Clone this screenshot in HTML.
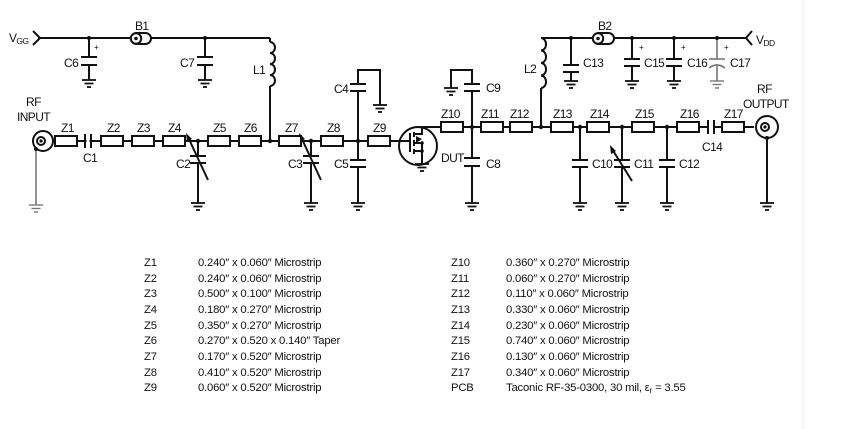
<!DOCTYPE html>
<html><head><meta charset="utf-8"><style>
body{margin:0;background:#fff}
svg{display:block}
text{font-family:"Liberation Sans",Arial,sans-serif;fill:#111}
</style></head><body>
<svg width="845" height="429" viewBox="0 0 845 429" xmlns="http://www.w3.org/2000/svg">
<defs>
<g id="gnd" stroke="#111" stroke-width="1.8"><line x1="-7" y1="0" x2="7" y2="0"/><line x1="-4.5" y1="3.5" x2="4.5" y2="3.5"/><line x1="-2" y1="7" x2="2" y2="7"/></g>
<g id="zr"><rect x="0" y="-5" width="22" height="10" fill="#fff" stroke="#111" stroke-width="2"/></g>
</defs>
<rect x="801" y="0" width="4" height="429" fill="#f7f7f7"/>
<g stroke="#111" stroke-width="2" fill="none">
<line x1="52" y1="141" x2="400" y2="141"/>
<line x1="38" y1="38" x2="270" y2="38"/>
<polyline points="33,31 40,38 33,45"/>
<line x1="89" y1="38" x2="89" y2="57"/><line x1="81" y1="57" x2="97" y2="57"/><line x1="81" y1="65" x2="97" y2="65"/><line x1="89" y1="65" x2="89" y2="80"/>
<line x1="205" y1="38" x2="205" y2="57"/><line x1="197" y1="57" x2="213" y2="57"/><line x1="197" y1="65" x2="213" y2="65"/><line x1="205" y1="65" x2="205" y2="80"/>
<line x1="270" y1="38" x2="270" y2="42"/>
<path d="M270,42 a5,5.5 0 0 1 0,11 a5,5.5 0 0 1 0,11 a5,5.5 0 0 1 0,11 a5,5.5 0 0 1 0,11"/>
<line x1="270" y1="86" x2="270" y2="141"/>
<line x1="85" y1="134" x2="85" y2="148"/><line x1="91" y1="134" x2="91" y2="148"/>
<line x1="198" y1="141" x2="198" y2="156"/><line x1="190" y1="156" x2="206" y2="156"/><line x1="190" y1="163" x2="206" y2="163"/><line x1="198" y1="163" x2="198" y2="203"/>
<line x1="208" y1="180" x2="188" y2="137"/>
<line x1="311" y1="141" x2="311" y2="156"/><line x1="303" y1="156" x2="319" y2="156"/><line x1="303" y1="163" x2="319" y2="163"/><line x1="311" y1="163" x2="311" y2="203"/>
<line x1="321" y1="180" x2="301" y2="137"/>
<line x1="358" y1="141" x2="358" y2="91"/><line x1="350" y1="91" x2="366" y2="91"/><line x1="350" y1="84" x2="366" y2="84"/><polyline points="358,84 358,70 380,70 380,105"/>
<line x1="358" y1="141" x2="358" y2="160"/><line x1="350" y1="160" x2="366" y2="160"/><line x1="350" y1="167" x2="366" y2="167"/><line x1="358" y1="167" x2="358" y2="203"/>
<circle cx="43" cy="141" r="10"/><circle cx="41" cy="141" r="4"/>
<circle cx="418" cy="146" r="19"/>
<line x1="400" y1="141" x2="410" y2="141"/><line x1="410" y1="133" x2="410" y2="152"/>
<line x1="414" y1="132" x2="414" y2="137"/><line x1="414" y1="140" x2="414" y2="146"/><line x1="414" y1="149" x2="414" y2="154"/>
<polyline points="414,134 422,134 422,127 440,127"/>
<polyline points="414,143 422,143"/><polyline points="414,151 422,151 422,143"/>
<line x1="422" y1="151" x2="422" y2="165"/>
<line x1="440" y1="127" x2="754" y2="127"/>
<line x1="472" y1="127" x2="472" y2="91"/><line x1="464" y1="91" x2="480" y2="91"/><line x1="464" y1="84" x2="480" y2="84"/><polyline points="472,84 472,70 451,70 451,88"/>
<line x1="472" y1="127" x2="472" y2="158"/><line x1="464" y1="158" x2="480" y2="158"/><line x1="464" y1="166" x2="480" y2="166"/><line x1="472" y1="166" x2="472" y2="203"/>
<line x1="541" y1="38" x2="746" y2="38"/>
<polyline points="752,31 746,38 752,45"/>
<path d="M541,38 a5,6.2 0 0 1 0,12.5 a5,6.2 0 0 1 0,12.5 a5,6.2 0 0 1 0,12.5 a5,6.2 0 0 1 0,12.5"/>
<line x1="541" y1="88" x2="541" y2="127"/>
<line x1="571" y1="38" x2="571" y2="65"/><line x1="563" y1="65" x2="579" y2="65"/><line x1="563" y1="72" x2="579" y2="72"/><line x1="571" y1="72" x2="571" y2="81"/>
<line x1="632" y1="38" x2="632" y2="59"/><line x1="624" y1="59" x2="640" y2="59"/><line x1="624" y1="66" x2="640" y2="66"/><line x1="632" y1="66" x2="632" y2="81"/>
<line x1="674" y1="38" x2="674" y2="59"/><line x1="666" y1="59" x2="682" y2="59"/><line x1="666" y1="66" x2="682" y2="66"/><line x1="674" y1="66" x2="674" y2="81"/>
<line x1="580" y1="127" x2="580" y2="160"/><line x1="572" y1="160" x2="588" y2="160"/><line x1="572" y1="167" x2="588" y2="167"/><line x1="580" y1="167" x2="580" y2="203"/>
<line x1="622" y1="127" x2="622" y2="160"/><line x1="614" y1="160" x2="630" y2="160"/><line x1="614" y1="167" x2="630" y2="167"/><line x1="622" y1="167" x2="622" y2="203"/>
<line x1="632" y1="181" x2="612" y2="149"/>
<line x1="667" y1="127" x2="667" y2="160"/><line x1="659" y1="160" x2="675" y2="160"/><line x1="659" y1="167" x2="675" y2="167"/><line x1="667" y1="167" x2="667" y2="203"/>
<line x1="708" y1="120" x2="708" y2="134"/><line x1="714" y1="120" x2="714" y2="134"/>
<circle cx="767" cy="127" r="11"/><circle cx="765" cy="127" r="4"/>
<line x1="767" y1="138" x2="767" y2="203"/>
</g>
<g stroke="#777" stroke-width="1.6" fill="none">
<line x1="717" y1="38" x2="717" y2="59"/><line x1="709" y1="59" x2="725" y2="59"/><path d="M709,68 Q717,62 725,68"/><line x1="717" y1="64" x2="717" y2="81"/>
<line x1="36" y1="149" x2="36" y2="205"/>
</g>
<g fill="#fff"><rect x="709" y="121" width="4" height="12"/><rect x="86.5" y="135" width="3" height="12"/></g>
<g fill="#111"><polygon points="186,133 187,142 192,139"/><polygon points="299,133 300,142 305,139"/><polygon points="610,145 611,154 616,151"/><polygon points="422,139 416,136 416,143"/></g>
<g stroke="#111" stroke-width="2" fill="#fff"><rect x="131" y="33" width="20" height="11" rx="5.5"/><circle cx="136" cy="38.5" r="5.2"/>
<rect x="593" y="33" width="21" height="11" rx="5.5"/><circle cx="598" cy="38.5" r="5.2"/></g>
<g fill="#111"><circle cx="136" cy="38.5" r="1.8"/><circle cx="598" cy="38.5" r="1.8"/><circle cx="41" cy="141" r="1.6"/><circle cx="765" cy="127" r="1.6"/>
<circle cx="89" cy="38" r="2"/><circle cx="205" cy="38" r="2"/><circle cx="198" cy="141" r="2.2"/><circle cx="270" cy="141" r="2.2"/><circle cx="311" cy="141" r="2.2"/><circle cx="358" cy="141" r="2.2"/><circle cx="36" cy="149" r="2"/>
<circle cx="472" cy="127" r="2.2"/><circle cx="541" cy="127" r="2.2"/><circle cx="580" cy="127" r="2.2"/><circle cx="622" cy="127" r="2.2"/><circle cx="667" cy="127" r="2.2"/><circle cx="571" cy="38" r="2"/><circle cx="632" cy="38" r="2"/><circle cx="674" cy="38" r="2"/><circle cx="717" cy="38" r="2"/><circle cx="767" cy="138" r="2"/><circle cx="422" cy="143" r="1.8"/><circle cx="422" cy="151" r="1.8"/></g>
<g transform="translate(0,141)"><use href="#zr" x="55"/><use href="#zr" x="101"/><use href="#zr" x="132"/><use href="#zr" x="163"/><use href="#zr" x="208"/><use href="#zr" x="239"/><use href="#zr" x="279"/><use href="#zr" x="321"/><use href="#zr" x="368"/></g>
<g transform="translate(0,127)"><use href="#zr" x="441"/><use href="#zr" x="481"/><use href="#zr" x="510"/><use href="#zr" x="551"/><use href="#zr" x="587"/><use href="#zr" x="632"/><use href="#zr" x="677"/><use href="#zr" x="722"/></g>
<use href="#gnd" x="89" y="80"/><use href="#gnd" x="205" y="80"/><use href="#gnd" x="198" y="203"/><use href="#gnd" x="311" y="203"/><use href="#gnd" x="358" y="203"/><use href="#gnd" x="380" y="105"/><use href="#gnd" x="422" y="164"/>
<use href="#gnd" x="451" y="88"/><use href="#gnd" x="472" y="203"/><use href="#gnd" x="571" y="81"/><use href="#gnd" x="632" y="81"/><use href="#gnd" x="674" y="81"/><use href="#gnd" x="580" y="203"/><use href="#gnd" x="622" y="203"/><use href="#gnd" x="667" y="203"/><use href="#gnd" x="767" y="203"/>
<g stroke="#777" stroke-width="1.4"><line x1="29" y1="205" x2="43" y2="205"/><line x1="31.5" y1="208.5" x2="40.5" y2="208.5"/><line x1="34" y1="212" x2="38" y2="212"/><line x1="710" y1="81" x2="724" y2="81"/><line x1="712.5" y1="84.5" x2="721.5" y2="84.5"/><line x1="715" y1="88" x2="719" y2="88"/></g>
<g font-size="12" letter-spacing="-0.6">
<text x="9" y="42">V<tspan font-size="8.5" dy="2">GG</tspan></text>
<text x="756" y="44">V<tspan font-size="8.5" dy="2">DD</tspan></text>
<text x="135" y="30">B1</text><text x="598" y="30">B2</text>
<text x="64" y="67">C6</text><text x="180" y="67">C7</text><text x="253" y="74">L1</text>
<text x="94" y="50" font-size="8">+</text>
<text x="334" y="93">C4</text><text x="334" y="168">C5</text><text x="176" y="168">C2</text><text x="288" y="168">C3</text>
<text x="83" y="162">C1</text>
<text x="26" y="106">RF</text><text x="17" y="121">INPUT</text>
<text x="61" y="132">Z1</text><text x="107" y="132">Z2</text><text x="137" y="132">Z3</text><text x="168" y="132">Z4</text><text x="213" y="132">Z5</text><text x="244" y="132">Z6</text><text x="285" y="132">Z7</text><text x="327" y="132">Z8</text><text x="373" y="132">Z9</text>
<text x="441" y="118">Z10</text><text x="481" y="118">Z11</text><text x="510" y="118">Z12</text><text x="553" y="118">Z13</text><text x="590" y="118">Z14</text><text x="635" y="118">Z15</text><text x="680" y="118">Z16</text><text x="724" y="118">Z17</text>
<text x="441" y="162">DUT</text><text x="486" y="168">C8</text><text x="486" y="92">C9</text><text x="524" y="73">L2</text>
<text x="583" y="67">C13</text><text x="644" y="67">C15</text><text x="687" y="67">C16</text><text x="730" y="67">C17</text>
<text x="592" y="168">C10</text><text x="634" y="168">C11</text><text x="679" y="168">C12</text><text x="702" y="151">C14</text>
<text x="757" y="93">RF</text><text x="743" y="108">OUTPUT</text>
</g>
<g font-size="8"><text x="639" y="50">+</text><text x="681" y="50">+</text><text x="724" y="50">+</text></g>
<g font-size="11.3" letter-spacing="-0.2">
<text x="144" y="266">Z1</text><text x="198" y="266">0.240″ x 0.060″ Microstrip</text>
<text x="144" y="282">Z2</text><text x="198" y="282">0.240″ x 0.060″ Microstrip</text>
<text x="144" y="297">Z3</text><text x="198" y="297">0.500″ x 0.100″ Microstrip</text>
<text x="144" y="313">Z4</text><text x="198" y="313">0.180″ x 0.270″ Microstrip</text>
<text x="144" y="329">Z5</text><text x="198" y="329">0.350″ x 0.270″ Microstrip</text>
<text x="144" y="344">Z6</text><text x="198" y="344">0.270″ x 0.520 x 0.140″ Taper</text>
<text x="144" y="360">Z7</text><text x="198" y="360">0.170″ x 0.520″ Microstrip</text>
<text x="144" y="376">Z8</text><text x="198" y="376">0.410″ x 0.520″ Microstrip</text>
<text x="144" y="391">Z9</text><text x="198" y="391">0.060″ x 0.520″ Microstrip</text>
<text x="451" y="266">Z10</text><text x="506" y="266">0.360″ x 0.270″ Microstrip</text>
<text x="451" y="282">Z11</text><text x="506" y="282">0.060″ x 0.270″ Microstrip</text>
<text x="451" y="297">Z12</text><text x="506" y="297">0.110″ x 0.060″ Microstrip</text>
<text x="451" y="313">Z13</text><text x="506" y="313">0.330″ x 0.060″ Microstrip</text>
<text x="451" y="329">Z14</text><text x="506" y="329">0.230″ x 0.060″ Microstrip</text>
<text x="451" y="344">Z15</text><text x="506" y="344">0.740″ x 0.060″ Microstrip</text>
<text x="451" y="360">Z16</text><text x="506" y="360">0.130″ x 0.060″ Microstrip</text>
<text x="451" y="376">Z17</text><text x="506" y="376">0.340″ x 0.060″ Microstrip</text>
<text x="451" y="391">PCB</text><text x="506" y="391">Taconic RF-35-0300, 30 mil, ε<tspan font-size="8" dy="2">r</tspan><tspan dy="-2"> = 3.55</tspan></text>
</g>
</svg>
</body></html>
